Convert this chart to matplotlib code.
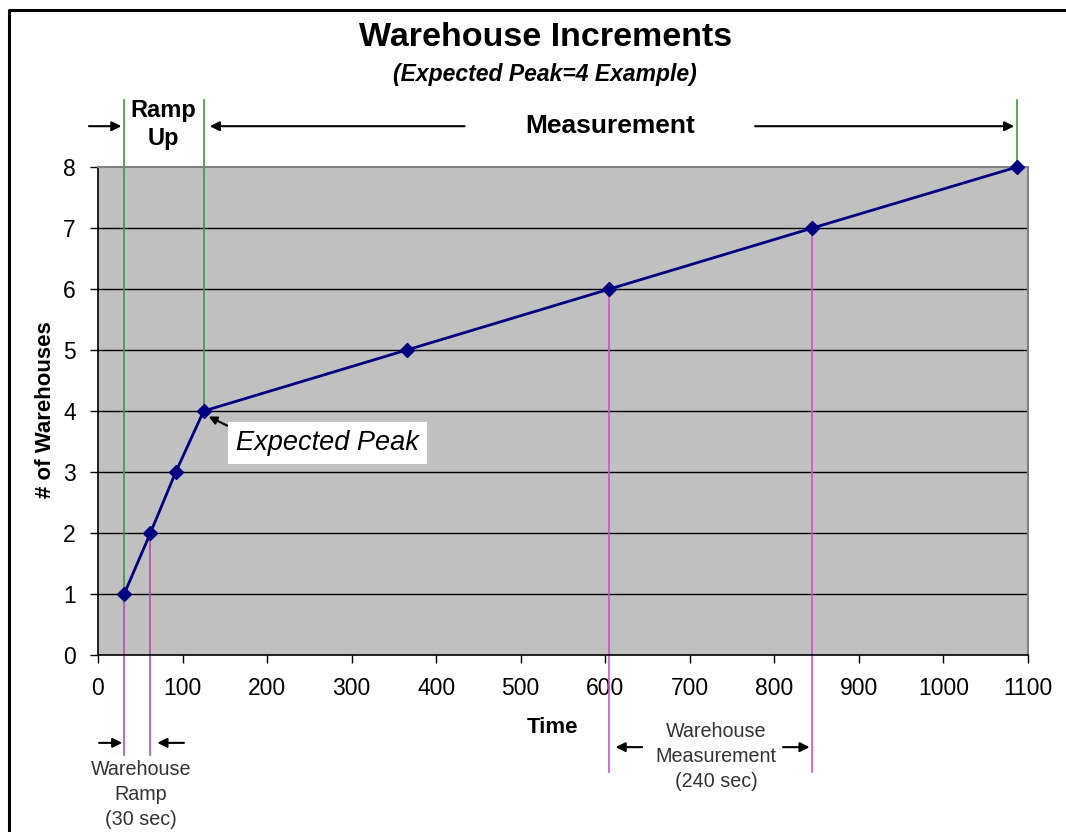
import matplotlib.pyplot as plt
from matplotlib.lines import Line2D

plt.rcParams['font.family'] = ['Liberation Sans', 'DejaVu Sans']

# data
tiempo = [31, 62, 92, 125, 365, 605, 845, 1087]
almacenes = [1, 2, 3, 4, 5, 6, 7, 8]
x_ticks = list(range(0, 1101, 100))
y_ticks = list(range(0, 9))

fig = plt.figure(figsize=(10.66, 8.32), dpi=100)
ax = fig.add_axes([0.0919, 0.2127, 0.8724, 0.5865])

# outer frame (top and left only visible)
fig.lines.append(Line2D([9 / 1066, 9 / 1066, 1.0], [0.0, 1 - 10 / 832, 1 - 10 / 832],
                        transform=fig.transFigure, color='black', lw=2.2))

ax.set_facecolor('#c0c0c0')
ax.set_xlim(0, 1100)
ax.set_ylim(0, 8)
ax.set_xticks(x_ticks)
ax.set_yticks(y_ticks)
ax.tick_params(labelsize=16.5, length=6, width=1, direction='out', pad=10)
for s in ['top', 'right']:
    ax.spines[s].set_color('#808080')
    ax.spines[s].set_linewidth(1.5)
for s in ['left', 'bottom']:
    ax.spines[s].set_color('black')
    ax.spines[s].set_linewidth(1.2)
for y in y_ticks[1:-1]:
    ax.axhline(y, color='black', lw=1, zorder=1)

# green / pink markers
for i in [0, 3, 7]:
    ax.plot([tiempo[i], tiempo[i]], [9.1, almacenes[i]], color='#3c9a3c', lw=1.2,
            clip_on=False, zorder=2)
for i, fondo, col in [(0, -1.64, '#b050b0'), (1, -1.64, '#b050b0'),
                      (5, -1.92, '#d050d0'), (6, -1.92, '#d050d0')]:
    ax.plot([tiempo[i], tiempo[i]], [almacenes[i], fondo], color=col, lw=1.2,
            clip_on=False, zorder=2)

ax.plot(tiempo, almacenes, color='#000080', lw=2, marker='D', markersize=7,
        markerfacecolor='#000080', markeredgecolor='#000080', zorder=4, clip_on=False)

ax.text(538, -1.19, 'Time', ha='center', va='center', fontsize=16, fontweight='bold')
ax.text(-62.5, 4.03, '# of Warehouses', ha='center', va='center', rotation=90,
        fontsize=16, fontweight='bold')

fig.text(546 / 1066, 1 - 38 / 832, 'Warehouse Increments', ha='center', va='center',
         fontsize=24.5, fontweight='bold')
fig.text(545 / 1066, 1 - 75 / 832, '(Expected Peak=4 Example)', ha='center', va='center',
         fontsize=16.5, fontweight='bold', style='italic')

flecha = dict(arrowstyle='-|>', color='black', lw=1.5, mutation_scale=14)


def flechita(x0, y0, x1, y1):
    ax.annotate('', xy=(x1, y1), xytext=(x0, y0), arrowprops=flecha,
                annotation_clip=False)


# top arrows
flechita(-14, 8.67, 31, 8.67)
flechita(437, 8.67, 129, 8.67)
flechita(774, 8.67, 1087, 8.67)
ax.text(77, 8.70, 'Ramp\nUp', ha='center', va='center', fontsize=17,
        fontweight='bold', linespacing=1.25)
ax.text(606, 8.67, 'Measurement', ha='center', va='center', fontsize=19,
        fontweight='bold')

# bottom arrows
flechita(-2, -1.44, 32, -1.44)
flechita(105, -1.44, 67, -1.44)
ax.text(51, -2.28, 'Warehouse\nRamp\n(30 sec)', ha='center', va='center',
        fontsize=14.2, color='#333333', linespacing=1.4)
flechita(647, -1.51, 609, -1.51)
flechita(807, -1.51, 845, -1.51)
ax.text(731, -1.67, 'Warehouse\nMeasurement\n(240 sec)', ha='center', va='center',
        fontsize=14.2, color='#333333', linespacing=1.4)

# expected peak label
ax.annotate('Expected Peak', xy=(128, 3.93), xytext=(271, 3.48),
            fontsize=19.5, style='italic', ha='center', va='center',
            bbox=dict(boxstyle='square,pad=0.3', facecolor='white', edgecolor='none'),
            arrowprops=dict(arrowstyle='-|>', color='black', lw=1.5, mutation_scale=12,
                            shrinkA=0, shrinkB=2, relpos=(0, 1)),
            zorder=5)

fig.savefig('out.png', dpi=100)
